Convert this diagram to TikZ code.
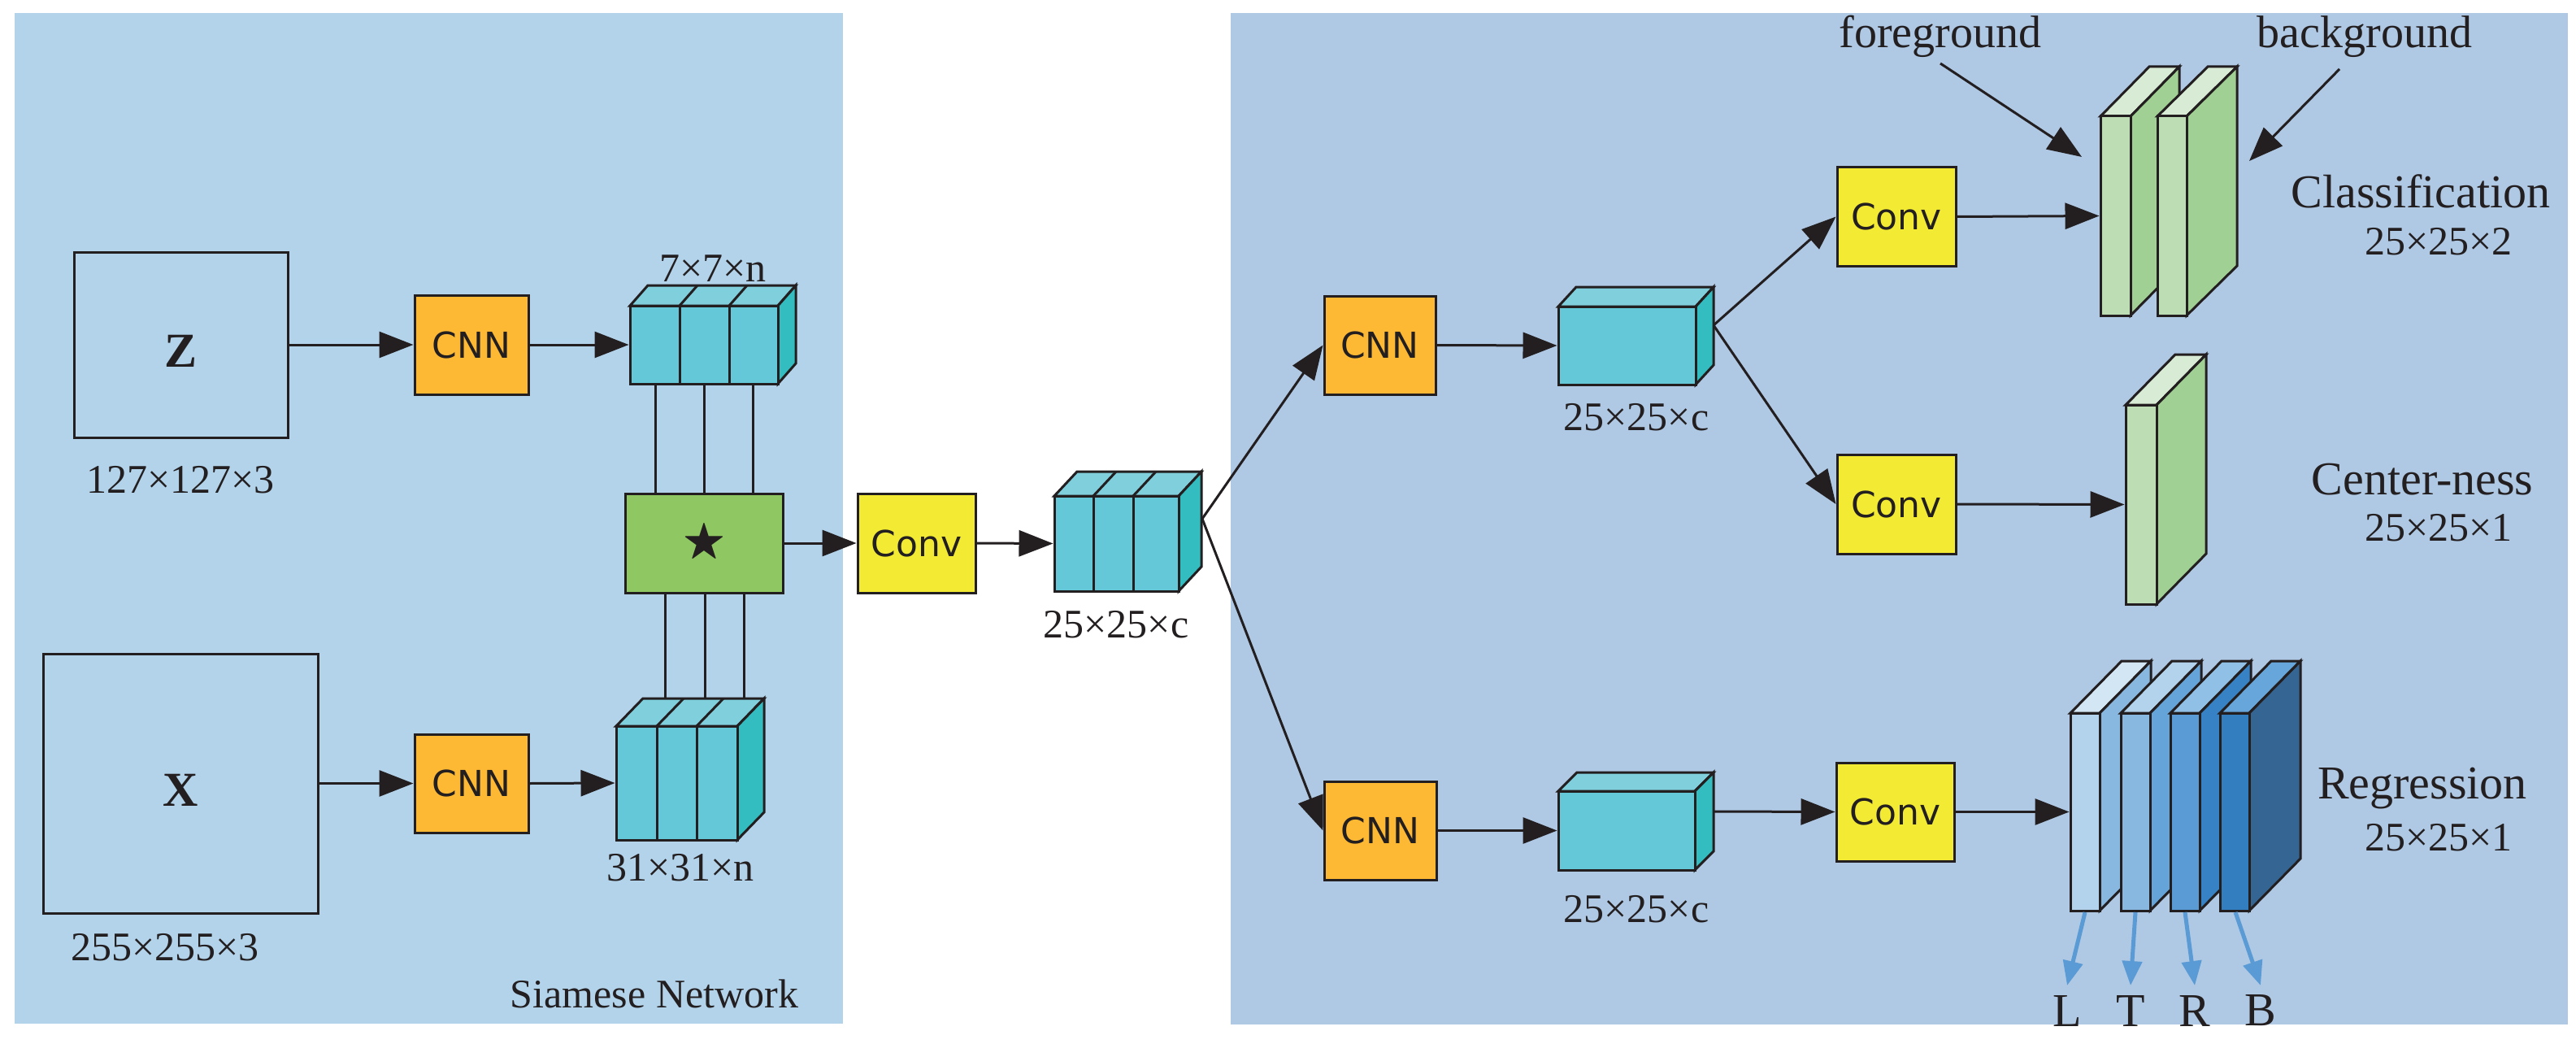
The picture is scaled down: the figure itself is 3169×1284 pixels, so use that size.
\documentclass[tikz,border=0pt]{standalone}
\usepackage{amssymb}
\usepackage{fontspec}
\setmainfont{Liberation Serif}
\newfontfamily\sansf{DejaVu Sans}
\usetikzlibrary{arrows.meta}
\definecolor{lpanel}{HTML}{B3D3EB}
\definecolor{rpanel}{HTML}{AFC8E3}
\definecolor{orng}{HTML}{FDB933}
\definecolor{yllw}{HTML}{F2EA33}
\definecolor{grn}{HTML}{8FC862}
\definecolor{cyF}{HTML}{65C8D8}
\definecolor{cyT}{HTML}{7FCFDD}
\definecolor{cyS}{HTML}{33BDC0}
\definecolor{gF}{HTML}{BDDDB5}
\definecolor{gS}{HTML}{A1D094}
\definecolor{gT}{HTML}{D8EBD4}
\definecolor{bA}{HTML}{B3D3EC}
\definecolor{bB}{HTML}{88B7DF}
\definecolor{bC}{HTML}{65A4D8}
\definecolor{bD}{HTML}{5B9BD5}
\definecolor{bE}{HTML}{3682C4}
\definecolor{bG}{HTML}{90C0E5}
\definecolor{bH}{HTML}{337EBE}
\definecolor{bI}{HTML}{356592}
\definecolor{bJ}{HTML}{66A6DA}
\definecolor{bK}{HTML}{D3E6F3}
\definecolor{ink}{HTML}{231F20}
% #1 x0, #2 ytop, #3 x1, #4 ybot, #5 dx, #6 dy, #7 front, #8 side, #9 top
\newcommand\myplate[9]{%
  \filldraw[fill=#9] (#1,#2) -- ({#1+#5},{#2-#6}) -- ({#3+#5},{#2-#6}) -- (#3,#2) -- cycle;
  \filldraw[fill=#8] (#3,#2) -- ({#3+#5},{#2-#6}) -- ({#3+#5},{#4-#6}) -- (#3,#4) -- cycle;
  \filldraw[fill=#7] (#1,#2) rectangle (#3,#4);}
\newcommand\mydivs[5]{% list, ytop, ybot, dx, dy
  \foreach \d in {#1} {\draw (\d,#2) -- (\d,#3); \draw (\d,#2) -- ({\d+#4},{#2-#5});}}
\begin{document}
\begin{tikzpicture}[x=1pt,y=-1pt,line width=3pt,draw=ink,line join=miter,
  arr/.style={-{Triangle[length=42pt,width=32pt]},line width=3pt,draw=ink},
  barr/.style={-{Triangle[length=30pt,width=24pt]},line width=5pt,draw=bD},
  box/.style={draw=ink,line width=3pt,inner sep=0pt},
  lab/.style={font=\fontsize{50}{55}\selectfont,text=ink,inner sep=0pt},
  big/.style={font=\fontsize{58}{62}\selectfont,text=ink,inner sep=0pt},
  sf/.style={font=\sansf\fontsize{44}{48}\selectfont,text=ink},
  ph/.style={inner sep=0pt,draw=none}]
\useasboundingbox (0,0) rectangle (3169,1284);
\fill[white] (0,0) rectangle (3169,1284);
\fill[lpanel] (18,16) rectangle (1037,1259);
\fill[rpanel] (1514,16) rectangle (3159,1260);

% left inputs
\node[box,minimum width=263pt,minimum height=228pt] (z) at (222.5,424) {};
\node[font=\bfseries\fontsize{60}{60}\selectfont,text=ink] at (222.5,432) {Z};
\node[lab] at (222,590) {127×127×3};
\node[box,minimum width=338pt,minimum height=319pt] (x) at (222,963.5) {};
\node[font=\bfseries\fontsize{60}{60}\selectfont,text=ink] at (222,972) {X};
\node[lab] at (203,1165) {255×255×3};

\node[box,fill=orng,minimum width=140pt,minimum height=122pt,sf] (cnn1) at (580,424) {CNN};
\node[box,fill=orng,minimum width=140pt,minimum height=121pt,sf] (cnn2) at (580,963.5) {CNN};

% block 1
\myplate{775}{376}{957}{472}{22}{25}{cyF}{cyS}{cyT}
\mydivs{836,897}{376}{472}{22}{25}
\node[ph,minimum width=182pt,minimum height=96pt] (b1) at (866,424) {};
\node[lab] at (877,330) {7×7×n};
% block 2
\myplate{758}{893}{907}{1033}{33}{34}{cyF}{cyS}{cyT}
\mydivs{808,857}{893}{1033}{33}{34}
\node[ph,minimum width=149pt,minimum height=140pt] (b2) at (832.5,963) {};
\node[lab] at (837,1067) {31×31×n};

% star box
\node[box,fill=grn,minimum width=194pt,minimum height=122pt] (xc) at (866,668) {};
\node[text=ink,font=\fontsize{55}{55}\selectfont] at (866,668) {$\bigstar$};
\foreach \a in {806,866,926} \draw (\a,472) -- (\a,607);
\foreach \a in {818,867,915} \draw (\a,729) -- (\a,859);

\node[box,fill=yllw,minimum width=145pt,minimum height=122pt,sf] (conv1) at (1127.5,668) {Conv};

% mid block
\myplate{1297}{610}{1450}{727}{28}{30}{cyF}{cyS}{cyT}
\mydivs{1345,1394}{610}{727}{28}{30}
\node[ph,minimum width=153pt,minimum height=117pt] (bm) at (1373.5,668.5) {};
\coordinate (bmr) at (1479,638);
\node[lab] at (1373,768) {25×25×c};

% right branch
\node[box,fill=orng,minimum width=137pt,minimum height=121pt,sf] (cnn3) at (1697.5,424.5) {CNN};
\node[box,fill=orng,minimum width=138pt,minimum height=121pt,sf] (cnn4) at (1698,1021.5) {CNN};

\myplate{1917}{377}{2086}{473}{22}{24}{cyF}{cyS}{cyT}
\node[ph,minimum width=169pt,minimum height=96pt] (b3) at (2001.5,425) {};
\coordinate (b3r) at (2108,400);
\node[lab] at (2013,513) {25×25×c};

\myplate{1917}{973}{2085}{1070}{23}{23}{cyF}{cyS}{cyT}
\node[ph,minimum width=168pt,minimum height=97pt] (b4) at (2001,1021.5) {};
\coordinate (b4r) at (2108,998);
\node[lab] at (2013,1118) {25×25×c};

\node[box,fill=yllw,minimum width=146pt,minimum height=121pt,sf] (conv2) at (2333,266.5) {Conv};
\node[box,fill=yllw,minimum width=146pt,minimum height=122pt,sf] (conv3) at (2333,620) {Conv};
\node[box,fill=yllw,minimum width=145pt,minimum height=121pt,sf] (conv4) at (2331.5,998.5) {Conv};

% classification plates
\myplate{2584}{143}{2621}{388}{60}{61}{gF}{gS}{gT}
\myplate{2654}{143}{2690}{388}{62}{61}{gF}{gS}{gT}
\node[ph,minimum width=37pt,minimum height=245pt] (c1) at (2602.5,265.5) {};
\coordinate (fgt) at (2561,193);
\coordinate (bgt) at (2767,198);
\node[font=\fontsize{56}{60}\selectfont,text=ink] (fg) at (2387,45) {foreground};
\node[font=\fontsize{56}{60}\selectfont,text=ink] (bg) at (2909,45) {background};
\coordinate (fgs) at (2387,78);
\coordinate (bgs) at (2878,85);
\node[big] at (2978,235) {Classification};
\node[lab] at (3000,297) {25×25×2};

% center-ness plate
\myplate{2615}{498}{2653}{743}{61}{62}{gF}{gS}{gT}
\node[ph,minimum width=38pt,minimum height=245pt] (cn) at (2634,620.5) {};
\node[big] at (2980,590) {Center-ness};
\node[lab] at (3000,649) {25×25×1};

% regression plates
\myplate{2547}{877}{2583}{1120}{63}{64}{bA}{bB}{bK}
\myplate{2609}{877}{2645}{1120}{63}{64}{bB}{bC}{bA}
\myplate{2670}{877}{2706}{1120}{63}{64}{bD}{bE}{bG}
\myplate{2731}{877}{2767}{1120}{63}{64}{bH}{bI}{bJ}
\node[ph,minimum width=36pt,minimum height=243pt] (r1) at (2565,998.5) {};
\node[big] at (2980,970) {Regression};
\node[lab] at (3000,1030) {25×25×1};
\foreach \sx/\ex/\t [count=\i] in {2565/2543/L,2627/2621/T,2688/2700/R,2750/2781/B}{
  \coordinate (rs\i) at (\sx,1122);
  \node[big,anchor=center] (rl\i) at (\ex,1243) {\t};
  \coordinate (re\i) at (\ex,1212);
  \draw[barr] (rs\i) -- (re\i);
}

% connectors
\draw[arr] (z.east) -- (cnn1.west);
\draw[arr] (x.east) -- (cnn2.west);
\draw[arr] (cnn1.east) -- (b1.west);
\draw[arr] (cnn2.east) -- (b2.west);
\draw[arr] (xc.east) -- (conv1.west);
\draw[arr] (conv1.east) -- (bm.west);
\draw[arr] (bmr) -- (cnn3.west);
\draw[arr] (bmr) -- (cnn4.west);
\draw[arr] (cnn3.east) -- (b3.west);
\draw[arr] (cnn4.east) -- (b4.west);
\draw[arr] (b3r) -- (conv2.west);
\draw[arr] (b3r) -- (conv3.west);
\draw[arr] (b4r) -- (conv4.west);
\draw[arr] (conv2.east) -- (c1.west);
\draw[arr] (conv3.east) -- (cn.west);
\draw[arr] (conv4.east) -- (r1.west);
\draw[arr] (fgs) -- (fgt);
\draw[arr] (bgs) -- (bgt);
\node[lab] at (805,1222) {Siamese Network};
\end{tikzpicture}
\end{document}
